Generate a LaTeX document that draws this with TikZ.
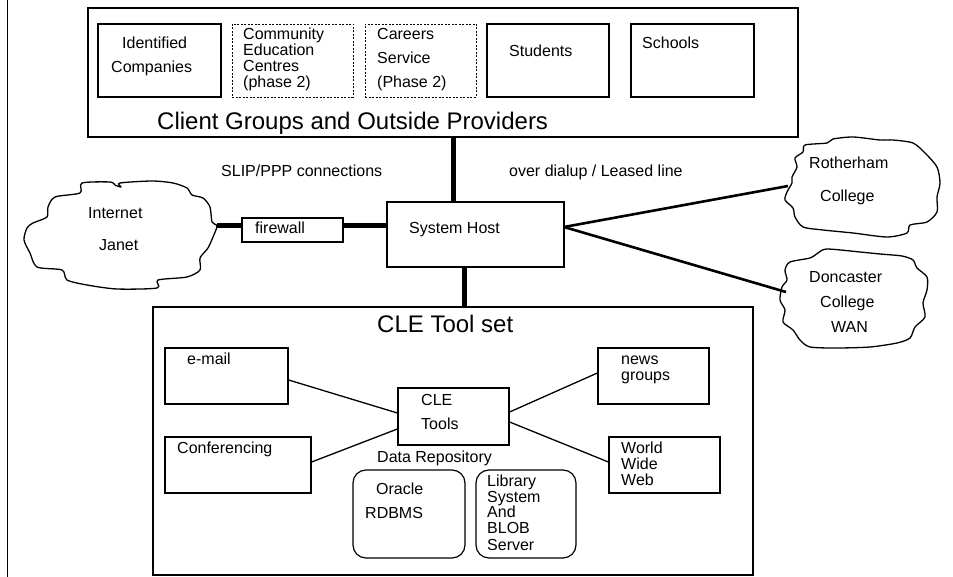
\documentclass[tikz,border=0pt]{standalone}
\usepackage{fontspec}
\setmainfont{Liberation Sans}
\usetikzlibrary{fit}
\begin{document}
\begin{tikzpicture}[x=1pt,y=-1pt,
  box/.style={draw, line width=1.2pt, inner sep=0pt},
  dbox/.style={draw, line width=0.8pt, dash pattern=on 2pt off 1.5pt, inner sep=0pt},
  rbox/.style={draw, line width=1.2pt, inner sep=0pt, rounded corners=13pt},
  txt/.style={inner sep=0pt, anchor=base west, font=\fontsize{16}{16}\selectfont},
  big/.style={inner sep=0pt, anchor=base west, font=\fontsize{24}{24}\selectfont},
  heavy/.style={line width=5pt},
  medium/.style={line width=2.6pt},
  thin/.style={line width=1.3pt},
  cloudline/.style={line width=1.3pt, line join=round}]
\useasboundingbox (0,0) rectangle (953,577);
\draw[line width=1.2pt] (7.5,0) -- (7.5,577);

% client groups
\node[box, fit={(88,8)(798,137)}] (client) {};
\node[box, fit={(98,24)(221,97)}] (ic) {};
\node[dbox, fit={(232,24)(353,97)}] (ce) {};
\node[dbox, fit={(365,24)(476,97)}] (cs) {};
\node[box, fit={(487,24)(609,97)}] (st) {};
\node[box, fit={(631,24)(754,97)}] (sc) {};
\node[txt] (ic1) at (122,49) {Identified};
\node[txt] (ic2) at (111,73) {Companies};
\node[txt] (ce1) at (243,39.5) {Community};
\node[txt] (ce2) at (243,55.5) {Education};
\node[txt] (ce3) at (243,71.5) {Centres};
\node[txt] (ce4) at (243,87.5) {(phase 2)};
\node[txt] (cs1) at (377,40) {Careers};
\node[txt] (cs2) at (377,64) {Service};
\node[txt] (cs3) at (377,88) {(Phase 2)};
\node[txt] (st1) at (509,57) {Students};
\node[txt] (sc1) at (642,49) {Schools};
\node[big] (ctitle) at (157,130) {Client Groups and Outside Providers};

\node[txt] (slip) at (221,177) {SLIP/PPP connections};
\node[txt] (dial) at (509,177) {over dialup / Leased line};

% system host and firewall
\node[box, fit={(387,202)(564,267)}] (host) {};
\node[txt] (hostt) at (409,234) {System Host};
\node[box, fit={(242,218)(343,242)}] (fw) {};
\node[txt] (fwt) at (255,234) {firewall};

% internet cloud
\draw[cloudline] plot[smooth cycle, tension=0.45] coordinates {
 (82,183) (110,182) (115,185) (121,187) (120,183) (152,181) (173,183) (187,188) (192,195)
 (203,198) (210,207) (212,222) (217,226) (213,237) (208,248) (200,258) (200,270)
 (187,277) (158,280) (157,288) (117,289) (87,285) (67,280) (62,270) (37,267)
 (30,253) (24,240) (27,228) (33,223) (47,217) (48,207) (55,197) (80,193)};
\coordinate (inetE) at (217,226);
\node[txt] (inet1) at (88,219) {Internet};
\node[txt] (inet2) at (99,251) {Janet};

% Rotherham cloud
\draw[cloudline] plot[smooth cycle, tension=0.45] coordinates {
 (803,152) (805,145) (827,143) (833,139) (853,137) (880,140) (893,140) (913,143)
 (925,153) (937,167) (940,183) (937,197) (937,212) (927,222) (910,225) (907,233)
 (887,237) (853,233) (823,230) (803,227) (795,217) (793,208) (785,200) (787,192)
 (792,183) (792,177) (797,167) (795,158)};
\coordinate (rothW) at (788,186);
\node[txt] (ro1) at (809,169) {Rotherham};
\node[txt] (ro2) at (820,202) {College};

% Doncaster cloud
\draw[cloudline] plot[smooth cycle, tension=0.45] coordinates {
 (790,262) (810,258) (818,253) (827,249) (860,252) (880,254) (902,256) (913,260)
 (917,268) (927,277) (927,290) (923,303) (925,317) (915,327) (910,338) (897,343)
 (870,347) (837,348) (810,347) (800,340) (793,330) (783,322) (785,310) (780,300)
 (782,287) (787,280) (785,270)};
\coordinate (donW) at (786,292);
\node[txt] (do1) at (809,283) {Doncaster};
\node[txt] (do2) at (820,308) {College};
\node[txt] (do3) at (831,332) {WAN};

% CLE tool set
\node[box, fit={(153,307)(753,575)}] (cle) {};
\node[big] (cletitle) at (377,332) {CLE Tool set};
\node[box, fit={(165,348)(288,404)}] (email) {};
\node[txt] (emailt) at (187,364) {e-mail};
\node[box, fit={(165,437)(311,493)}] (conf) {};
\node[txt] (conft) at (177,453) {Conferencing};
\node[box, fit={(398,388)(509,445)}] (tools) {};
\node[txt] (tools1) at (421,405) {CLE};
\node[txt] (tools2) at (421,429) {Tools};
\node[txt] (repo) at (377,462) {Data Repository};
\node[rbox, fit={(353,470)(465,558)}] (oracle) {};
\node[txt] (or1) at (376,494) {Oracle};
\node[txt] (or2) at (365,518) {RDBMS};
\node[rbox, fit={(476,470)(576,558)}] (lib) {};
\node[txt] (lb1) at (487,486) {Library};
\node[txt] (lb2) at (487,502) {System};
\node[txt] (lb3) at (487,517.5) {And};
\node[txt] (lb4) at (487,533) {BLOB};
\node[txt] (lb5) at (487,550) {Server};
\node[box, fit={(598,348)(709,404)}] (news) {};
\node[txt] (nw1) at (621,364) {news};
\node[txt] (nw2) at (621,380) {groups};
\node[box, fit={(609,437)(720,493)}] (www) {};
\node[txt] (ww1) at (621,453) {World};
\node[txt] (ww2) at (621,469) {Wide};
\node[txt] (ww3) at (621,485) {Web};

% connectors
\draw[heavy] ([xshift=67.5pt]host.north west) -- ([xshift=67.5pt]host.north west |- client.south);
\draw[heavy] ([xshift=78pt]host.south west) -- ([xshift=78pt]host.south west |- cle.north);
\draw[heavy] (inetE) -- (inetE -| fw.west);
\draw[heavy] (fw.east |- inetE) -- (inetE -| host.west);
\coordinate (hE) at (564,227);
\draw[medium] (hE) -- (rothW);
\draw[medium] (hE) -- (donW);
\draw[thin] (email.east |- 0,380) -- (tools.west |- 0,413);
\draw[thin] (conf.east |- 0,462) -- (tools.west |- 0,429);
\draw[thin] (tools.east |- 0,412) -- (news.west |- 0,373);
\draw[thin] (tools.east |- 0,422) -- (www.west |- 0,462);
\end{tikzpicture}
\end{document}
